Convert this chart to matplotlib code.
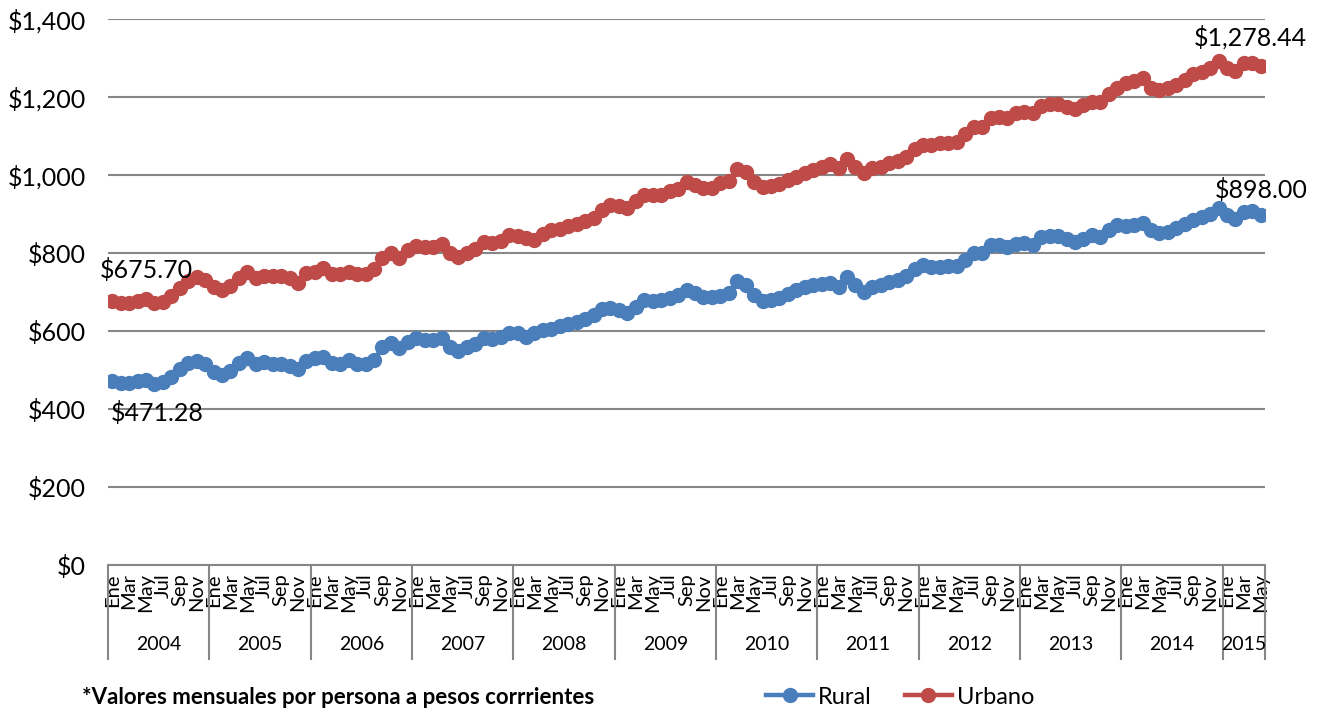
import matplotlib
matplotlib.use("Agg")
import matplotlib.pyplot as plt
from matplotlib.lines import Line2D

plt.rcParams['font.family'] = ['Lato', 'DejaVu Sans']

years = [str(y) for y in range(2004, 2016)]
month_names = ["Ene", "Feb", "Mar", "Abr", "May", "Jun", "Jul", "Ago", "Sep", "Oct", "Nov", "Dic"]
months_per_year = [12] * 11 + [5]

rural = [
    471.28, 467, 466, 471, 474, 465, 468, 482, 503, 519, 524, 515,
    495, 488, 498, 517, 530, 515, 520, 516, 515, 510, 502, 524,
    530, 533, 519, 516, 526, 515, 515, 526, 558, 570, 557, 572,
    582, 576, 577, 582, 558, 548, 560, 566, 582, 580, 584, 594,
    594, 584, 595, 603, 606, 612, 618, 623, 630, 640, 656, 660,
    654, 645, 661, 679, 678, 679, 685, 693, 706, 697, 686, 688,
    690, 697, 727, 719, 692, 676, 679, 684, 696, 704, 712, 717,
    721, 723, 714, 739, 717, 701, 714, 718, 726, 731, 740, 760,
    768, 763, 763, 766, 767, 782, 800, 801, 820, 820, 815, 823,
    825, 821, 840, 843, 843, 837, 827, 837, 845, 842, 860, 872,
    870, 872, 878, 858, 852, 855, 863, 875, 884, 892, 900, 915,
    898, 888, 905, 908, 898.00,
]

urbano = [
    675.70, 671, 671, 677, 681, 673, 675, 690, 709, 729, 738, 731,
    714, 705, 715, 735, 752, 735, 741, 740, 740, 735, 724, 750,
    752, 762, 747, 745, 752, 745, 747, 758, 788, 800, 787, 808,
    818, 815, 816, 822, 800, 790, 801, 809, 828, 825, 832, 845,
    843, 838, 834, 849, 860, 861, 868, 874, 882, 891, 910, 922,
    920, 915, 934, 948, 950, 950, 958, 965, 982, 974, 966, 966,
    980, 985, 1016, 1008, 983, 968, 972, 977, 987, 996, 1004, 1013,
    1021, 1027, 1017, 1042, 1021, 1006, 1017, 1021, 1032, 1037, 1045, 1066,
    1077, 1077, 1081, 1083, 1085, 1105, 1123, 1124, 1147, 1148, 1145, 1158,
    1162, 1158, 1178, 1182, 1181, 1175, 1168, 1179, 1188, 1186, 1208, 1222,
    1235, 1240, 1248, 1224, 1218, 1222, 1232, 1244, 1258, 1265, 1275, 1292,
    1275, 1266, 1286, 1288, 1278.44,
]

yticks = [0, 200, 400, 600, 800, 1000, 1200, 1400]
footnote = "*Valores mensuales por persona a pesos corrrientes"

BLUE = "#4A7EBB"
RED = "#BE4B48"
GRID = "#878787"

W, H = 1317, 710
fig = plt.figure(figsize=(W / 100, H / 100), dpi=100)
ax = fig.add_axes([108 / W, 1 - 565 / H, (1265 - 108) / W, (565 - 19) / H])

x = list(range(len(rural)))
ax.plot(x, rural, color=BLUE, lw=3.2, marker='o', ms=10, zorder=3, label="Rural")
ax.plot(x, urbano, color=RED, lw=3.2, marker='o', ms=10, zorder=3, label="Urbano")

ax.set_xlim(-0.5, len(rural) - 0.5)
ax.set_ylim(0, 1400)
ax.set_yticks(yticks)
ax.set_yticklabels([f"${v:,}" for v in yticks], fontsize=18)
ax.tick_params(axis='y', length=0, pad=16)
ax.yaxis.grid(True, color=GRID, lw=1.5)
ax.set_axisbelow(True)
for s in ["left", "right", "top"]:
    ax.spines[s].set_visible(False)
ax.spines["bottom"].set_color(GRID)
ax.spines["bottom"].set_linewidth(1.5)

# month tick labels (every other month)
tick_pos, tick_lab = [], []
idx = 0
for n in months_per_year:
    for m in range(n):
        if m % 2 == 0:
            tick_pos.append(idx)
            tick_lab.append(month_names[m])
        idx += 1
ax.set_xticks(tick_pos)
ax.set_xticklabels(tick_lab, rotation=90, fontsize=14.5, va='top', ha='center')
ax.tick_params(axis='x', length=0, pad=6)

# year groups and separators
trans = ax.get_xaxis_transform()
ax_h = 565 - 19
sep_bottom = -(660 - 565) / ax_h
year_y = -(645 - 565) / ax_h
start = 0
bounds = [-0.5]
for yr, n in zip(years, months_per_year):
    end = start + n
    bounds.append(end - 0.5)
    ax.text((start + end - 1) / 2, year_y, yr, transform=trans, ha='center', va='center', fontsize=14)
    start = end
ax.vlines(bounds, sep_bottom, 0, transform=trans, colors=GRID, lw=1.5, clip_on=False)

# data labels
def lab(i, series, dx, dy):
    v = series[i]
    ax.annotate(f"${v:,.2f}", xy=(x[i], v), xytext=(dx, dy), textcoords='offset pixels',
                ha='center', va='center', fontsize=18)

lab(0, urbano, 34, 31)
lab(0, rural, 45, -32)
lab(-1, urbano, -10, 29)
lab(-1, rural, 0, 25)

handles = [Line2D([], [], color=BLUE, lw=3.2, marker='o', ms=10),
           Line2D([], [], color=RED, lw=3.2, marker='o', ms=10)]
fig.legend(handles, ["Rural", "Urbano"], loc='center', bbox_to_anchor=(900 / W, 1 - 697 / H),
           ncol=2, frameon=False, fontsize=17, handlelength=2.0, handletextpad=0.2, columnspacing=1.4)

fig.text(82 / W, 1 - 697 / H, footnote, fontsize=16, fontweight='bold', va='center', ha='left')

fig.savefig("out.png", dpi=100)
